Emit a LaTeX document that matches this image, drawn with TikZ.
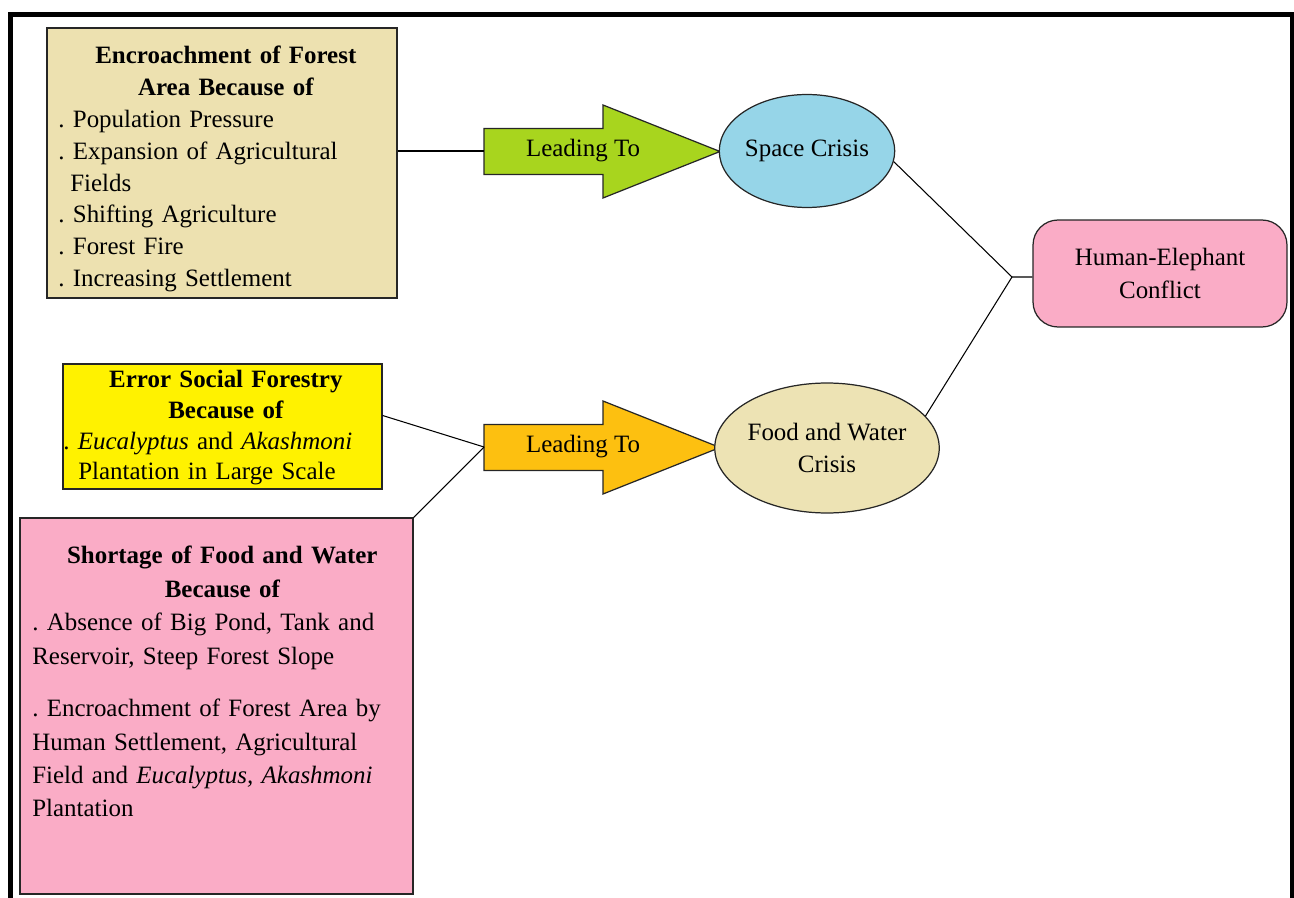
\documentclass[tikz,border=0pt]{standalone}
\usepackage{fontspec}
\setmainfont{Liberation Serif}
\frenchspacing
\usetikzlibrary{shapes.geometric}
\definecolor{boxtan}{RGB}{237,225,176}
\definecolor{boxyellow}{RGB}{255,242,0}
\definecolor{boxpink}{RGB}{250,172,198}
\definecolor{arrowgreen}{RGB}{168,213,30}
\definecolor{arroworange}{RGB}{253,192,16}
\definecolor{ellblue}{RGB}{150,213,232}
\definecolor{elltan}{RGB}{237,227,180}
\tikzset{
  causebox/.style={draw=black!85,line width=0.7pt,rectangle,inner sep=0pt},
  boxtext/.style={anchor=north west,inner sep=0pt,font=\fontsize{14.2}{18.1}\selectfont},
  leadshape/.style={draw=black!85,line width=0.7pt,line join=miter},
  leadtext/.style={inner sep=0pt,font=\fontsize{14.2}{18.1}\selectfont},
  crisis/.style={ellipse,draw=black!85,line width=0.7pt,inner sep=0pt,align=center,
    font=\fontsize{14.2}{18.1}\selectfont},
  link/.style={line width=0.6pt}
}
\begin{document}
\begin{tikzpicture}[x=0.02cm,y=-0.02cm]
  \useasboundingbox (0,0) rectangle (1294,898);
  %% outer frame
  \draw[line width=0.09cm] (10.5,898) -- (10.5,14.5) -- (1292,14.5) -- (1292,898);

  %% cause boxes
  \node[causebox,fill=boxtan,minimum width=7cm,minimum height=5.4cm] (encroach) at (222,163) {};
  \node[boxtext,text width=6.7cm] (encroachtxt) at (58,46)
    {{\centering\bfseries Encroachment of Forest\\Area Because of\par}\raggedright\noindent
     . Population Pressure\\ . Expansion of Agricultural\\ \hspace*{0.24cm}Fields\\
     . Shifting Agriculture\\ . Forest Fire\\ . Increasing Settlement};

  \node[causebox,fill=boxyellow,minimum width=6.38cm,minimum height=2.5cm] (forestry) at (222.5,426.5) {};
  \node[boxtext,text width=6.5cm,font=\fontsize{14.2}{17.5}\selectfont] (forestrytxt) at (63,370)
    {{\centering\bfseries Error Social Forestry\\Because of\par}\raggedright\noindent
     . \textit{Eucalyptus} and \textit{Akashmoni}\\ \hspace*{0.3cm}Plantation in Large Scale};

  \node[causebox,fill=boxpink,minimum width=7.86cm,minimum height=7.52cm] (shortage) at (216.5,706) {};
  \node[boxtext,text width=7.6cm,font=\fontsize{14.2}{19}\selectfont] (shortagetxt) at (32,546)
    {{\centering\bfseries Shortage of Food and Water\\Because of\par}\raggedright\noindent
     . Absence of Big Pond, Tank and\\ Reservoir, Steep Forest Slope\\[11pt]
     . Encroachment of Forest Area by\\ Human Settlement, Agricultural\\
     Field and \textit{Eucalyptus, Akashmoni}\\ Plantation};

  %% arrows
  \draw[leadshape,fill=arrowgreen] (484,128.5) -- ++(119,0) -- ++(0,-23.5) -- ++(117,46.5)
    -- ++(-117,46.5) -- ++(0,-23.5) -- ++(-119,0) -- cycle;
  \coordinate (lead1tail) at (484,151);
  \node[leadtext] (lead1) at (583,151) {Leading To};
  \draw[leadshape,fill=arroworange] (484,424.5) -- ++(119,0) -- ++(0,-23.5) -- ++(117,46.5)
    -- ++(-117,46.5) -- ++(0,-23.5) -- ++(-119,0) -- cycle;
  \coordinate (lead2tail) at (484,447);
  \node[leadtext] (lead2) at (583,447) {Leading To};

  %% crises
  \node[crisis,fill=ellblue,minimum width=3.5cm,minimum height=2.26cm] (space) at (807,151) {Space Crisis};
  \node[crisis,fill=elltan,minimum width=4.18cm,minimum height=2.6cm] (foodwater) at (827,448) {Food and Water\\Crisis};
  \node[draw=black!85,line width=0.7pt,rounded corners=0.5cm,fill=boxpink,minimum width=5.08cm,
    minimum height=2.14cm,align=center,font=\fontsize{14.2}{18.7}\selectfont] (conflict) at (1160,273.5)
    {Human-Elephant\\Conflict};

  %% connectors
  \coordinate (meet) at (1012,277);
  \draw[link] (encroach.east |- lead1tail) -- (lead1tail);
  \draw[link] ([yshift=0.22cm]forestry.east) -- (lead2tail);
  \draw[link] (shortage.north east) -- (lead2tail);
  \draw[link] (space.-7) -- (meet) -- (conflict.west |- meet);
  \draw[link] (foodwater.18) -- (meet);
\end{tikzpicture}
\end{document}
